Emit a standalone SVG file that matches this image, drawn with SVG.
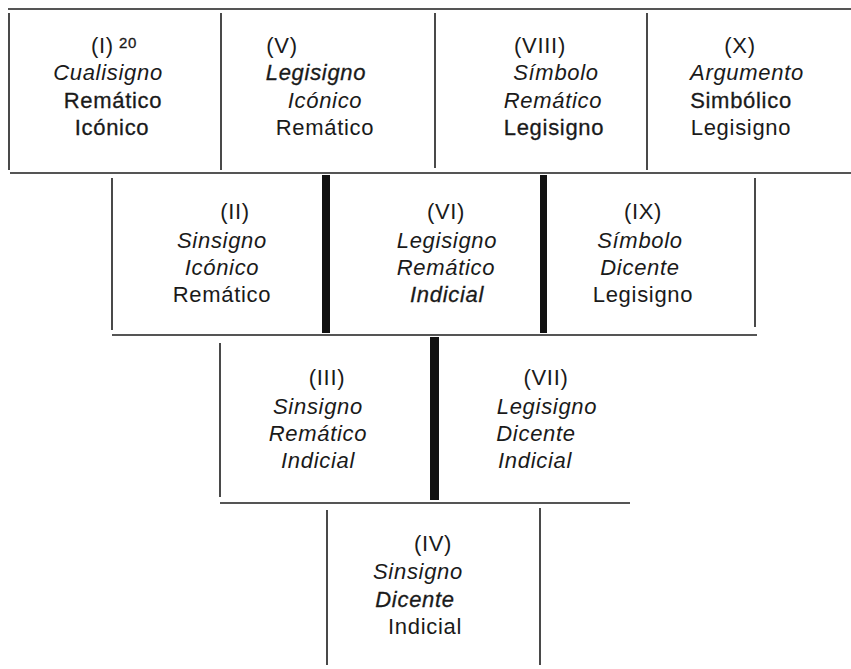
<svg xmlns="http://www.w3.org/2000/svg" width="851" height="669" viewBox="0 0 851 669">
<style>
  text { font-family: "Liberation Sans", Arial, sans-serif; font-size: 22px; fill: #1a1a1a; text-anchor: middle; letter-spacing: 0.7px; }
  .i { font-style: italic; }
  .m { stroke: #1a1a1a; stroke-width: 0.3px; }
  .sup { font-size: 15px; text-anchor: start; }
  .ln { stroke: #1c1c1c; stroke-width: 1.6; fill: none; }
  .bar { fill: #111; }
</style>
<rect width="851" height="669" fill="#fff"/>
<g id="connectors">
  <line class="ln" x1="8" y1="9" x2="851" y2="9"/>
  <line class="ln" x1="10" y1="173" x2="851" y2="173"/>
  <line class="ln" x1="112" y1="335" x2="757" y2="335"/>
  <line class="ln" x1="220" y1="503" x2="630" y2="503"/>
  <rect class="bar" x="322" y="175" width="8" height="158"/>
  <rect class="bar" x="540" y="175" width="7" height="158"/>
  <rect class="bar" x="430" y="337" width="9" height="163"/>
</g>
<g id="n1">
  <line class="ln" x1="9" y1="13" x2="9" y2="170"/>
  <line class="ln" x1="221" y1="13" x2="221" y2="170"/>
  <text x="114" y="53">(I)<tspan class="sup m" dx="5" dy="-5">20</tspan></text>
  <text class="i" x="108" y="80">Cualisigno</text>
  <text class="m" x="113" y="108">Remático</text>
  <text class="m" x="112" y="135">Icónico</text>
</g>
<g id="n5">
  <line class="ln" x1="435" y1="13" x2="435" y2="168"/>
  <text x="282" y="53">(V)</text>
  <text class="i m" x="316" y="80">Legisigno</text>
  <text class="i" x="325" y="108">Icónico</text>
  <text x="325" y="135">Remático</text>
</g>
<g id="n8">
  <line class="ln" x1="647" y1="13" x2="647" y2="170"/>
  <text x="540" y="53">(VIII)</text>
  <text class="i" x="556" y="80">Símbolo</text>
  <text class="i" x="553" y="108">Remático</text>
  <text class="m" x="554" y="135">Legisigno</text>
</g>
<g id="n10">
  <text x="740" y="53">(X)</text>
  <text class="i" x="747" y="80">Argumento</text>
  <text class="m" x="741" y="108">Simbólico</text>
  <text x="741" y="135">Legisigno</text>
</g>
<g id="n2">
  <line class="ln" x1="112" y1="178" x2="112" y2="330"/>
  <text x="235" y="219">(II)</text>
  <text class="i" x="222" y="248">Sinsigno</text>
  <text class="i" x="222" y="275">Icónico</text>
  <text x="222" y="302">Remático</text>
</g>
<g id="n6">
  <text x="446" y="219">(VI)</text>
  <text class="i" x="447" y="248">Legisigno</text>
  <text class="i" x="446" y="275">Remático</text>
  <text class="i m" x="447" y="302">Indicial</text>
</g>
<g id="n9">
  <line class="ln" x1="755" y1="178" x2="755" y2="327"/>
  <text x="643" y="219">(IX)</text>
  <text class="i" x="640" y="248">Símbolo</text>
  <text class="i" x="640" y="275">Dicente</text>
  <text x="643" y="302">Legisigno</text>
</g>
<g id="n3">
  <line class="ln" x1="220" y1="343" x2="220" y2="497"/>
  <text x="327" y="385">(III)</text>
  <text class="i" x="318" y="414">Sinsigno</text>
  <text class="i" x="318" y="441">Remático</text>
  <text class="i" x="318" y="468">Indicial</text>
</g>
<g id="n7">
  <text x="546" y="385">(VII)</text>
  <text class="i" x="547" y="414">Legisigno</text>
  <text class="i" x="536" y="441">Dicente</text>
  <text class="i" x="535" y="468">Indicial</text>
</g>
<g id="n4">
  <line class="ln" x1="327" y1="510" x2="327" y2="665"/>
  <line class="ln" x1="540" y1="508" x2="540" y2="665"/>
  <text x="433" y="551">(IV)</text>
  <text class="i" x="418" y="579">Sinsigno</text>
  <text class="i m" x="415" y="607">Dicente</text>
  <text x="425" y="634">Indicial</text>
</g>
</svg>
